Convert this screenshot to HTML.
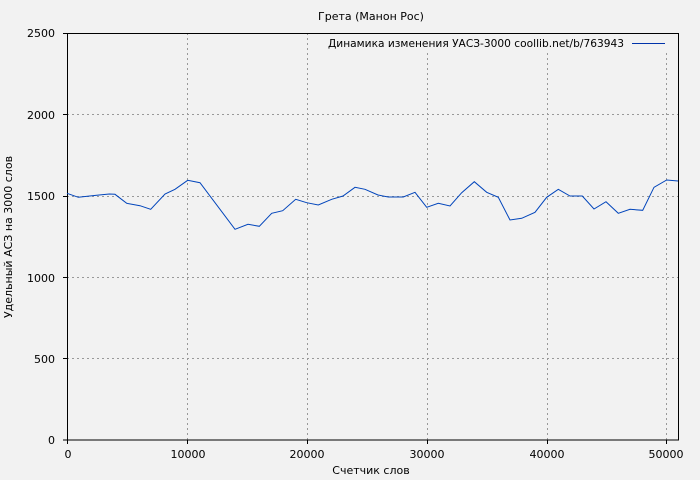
<!DOCTYPE html><html><head><style>body{margin:0;background:#f2f2f2}svg{display:block}text{font-family:"DejaVu Sans","Liberation Sans",sans-serif;font-size:11px;fill:#000}</style></head><body>
<svg width="700" height="480" xmlns="http://www.w3.org/2000/svg">
<rect width="700" height="480" fill="#f2f2f2"/>
<g stroke="#999" stroke-dasharray="2,3" stroke-width="1">
<line x1="187.5" y1="33" x2="187.5" y2="440"/><line x1="307.5" y1="33" x2="307.5" y2="440"/><line x1="427.5" y1="33" x2="427.5" y2="440"/><line x1="547.5" y1="33" x2="547.5" y2="440"/><line x1="666.5" y1="33" x2="666.5" y2="440"/>
<line x1="67" y1="358.5" x2="679" y2="358.5"/><line x1="67" y1="277.5" x2="679" y2="277.5"/><line x1="67" y1="196.5" x2="679" y2="196.5"/><line x1="67" y1="114.5" x2="679" y2="114.5"/>
</g>
<rect x="320" y="34" width="354" height="17" fill="#f2f2f2"/>
<rect x="67.5" y="33.5" width="611" height="406.5" fill="none" stroke="#000"/>
<g stroke="#000"><line x1="63" y1="440" x2="67" y2="440"/><line x1="63" y1="358.5" x2="67" y2="358.5"/><line x1="63" y1="277.5" x2="67" y2="277.5"/><line x1="63" y1="196.5" x2="67" y2="196.5"/><line x1="63" y1="114.5" x2="67" y2="114.5"/><line x1="63" y1="33.5" x2="67" y2="33.5"/>
<line x1="67.5" y1="440" x2="67.5" y2="444"/><line x1="187.5" y1="440" x2="187.5" y2="444"/><line x1="307.5" y1="440" x2="307.5" y2="444"/><line x1="427.5" y1="440" x2="427.5" y2="444"/><line x1="547.5" y1="440" x2="547.5" y2="444"/><line x1="666.5" y1="440" x2="666.5" y2="444"/></g>
<g text-anchor="end"><text x="55" y="444">0</text><text x="55" y="363">500</text><text x="55" y="282">1000</text><text x="55" y="200">1500</text><text x="55" y="119">2000</text><text x="55" y="37">2500</text></g>
<g text-anchor="middle"><text x="68" y="458">0</text><text x="188" y="458">10000</text><text x="307" y="458">20000</text><text x="427" y="458">30000</text><text x="547" y="458">40000</text><text x="666" y="458">50000</text>
<text x="371" y="474">Счетчик слов</text><text x="371" y="20">Грета (Манон Рос)</text>
<text transform="translate(12,237) rotate(-90)">Удельный АСЗ на 3000 слов</text></g>
<text x="328" y="47" textLength="296" lengthAdjust="spacingAndGlyphs">Динамика изменения УАСЗ-3000 coollib.net/b/763943</text>
<line x1="632" y1="43.5" x2="665" y2="43.5" stroke="#0033aa"/>
<polyline fill="none" stroke="#0044bb" stroke-width="1" points="67,193.3 78.3,197.3 96.7,195.3 109.3,194 115,194.3 126.7,203.3 140,205.7 150.7,209.3 165,194 175,189.3 187.7,180.3 200,182.7 235,229.3 248,224.3 259.3,226.3 271.7,213.3 282.7,210.7 295.7,199.3 306.7,202.7 318.3,205 331.7,199.3 343,196 355,187.3 365,189.3 378,195 388.3,197 403.3,197 415,192.3 426.7,207.3 438.3,203.3 450,206 461.7,192.7 474.3,181.7 486.7,192.3 498.3,197.3 510,220 521.7,218.3 535,212.3 546.7,197.3 558.3,189.3 570,196 582.3,196 594,209 606,201.7 618.3,213.3 630,209.3 642.7,210.3 654,187.3 666.7,180 678,181"/>
</svg></body></html>
